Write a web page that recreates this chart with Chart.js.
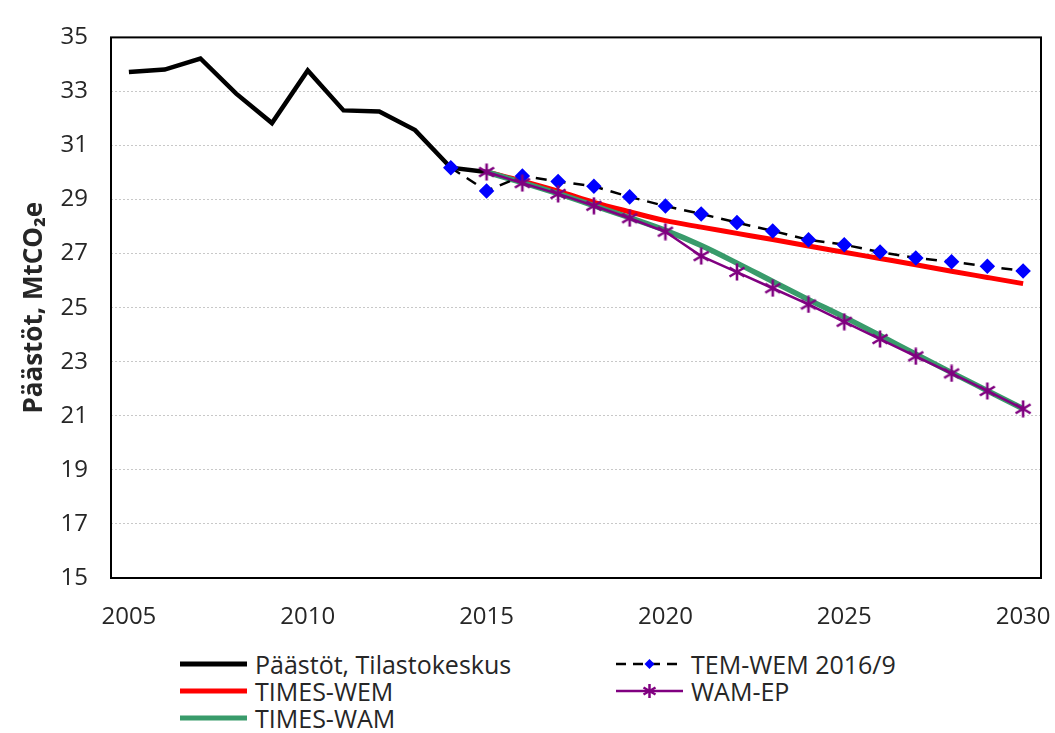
<!DOCTYPE html>
<html>
<head>
<meta charset="utf-8">
<script src="https://cdn.jsdelivr.net/npm/chart.js@4"></script>
<style>
  html, body { margin: 0; padding: 0; background: #fff; }
  #wrap { position: relative; width: 1055px; height: 733px; }
  #chart { position: absolute; left: 0; top: 0; }
  .leg { position: absolute; display: flex; align-items: center; height: 28px;
         font: 25px "Open Sans", sans-serif; color: #262626; white-space: nowrap; }
  .leg svg { margin-right: 8px; }
</style>
</head>
<body>
<div id="wrap">
  <canvas id="chart" width="1055" height="640"></canvas>
  <div id="legend"></div>
</div>
<script>
// Päästöt — historia ja skenaariot

const YEARS = [];
for (let y = 2005; y <= 2030; y++) YEARS.push(y);

// Tilastokeskus 2005–2015
const HIST_START = 2005;
const HIST = [33.72, 33.81, 34.22, 32.92, 31.83, 33.78, 32.30, 32.26, 31.57, 30.18, 30.02];

// TEM-WEM 2016/9, 2014–2030
const TEM_START = 2014;
const TEM_WEM = [30.18, 29.32, 29.87, 29.67, 29.49, 29.10, 28.76, 28.47, 28.15, 27.84,
                 27.51, 27.33, 27.06, 26.84, 26.70, 26.53, 26.36];

// TIMES-WEM, TIMES-WAM, WAM-EP 2015–2030
const SCEN_START = 2015;
const TIMES_WEM = [30.02, 29.68, 29.31, 28.90, 28.55, 28.22, 27.98, 27.75, 27.52, 27.28,
                   27.05, 26.82, 26.59, 26.35, 26.12, 25.89];
const TIMES_WAM = [30.02, 29.63, 29.22, 28.78, 28.33, 27.86, 27.30, 26.65, 25.97, 25.30,
                   24.65, 23.97, 23.28, 22.60, 21.93, 21.26];
const WAM_EP = [30.02, 29.61, 29.21, 28.77, 28.31, 27.81, 26.91, 26.32, 25.72, 25.12,
                24.48, 23.84, 23.20, 22.57, 21.92, 21.26];

const Y_TICKS = [15, 17, 19, 21, 23, 25, 27, 29, 31, 33, 35];

// sijoittaa sarjan oikeille vuosille, muut null
function onYears(start, values) {
  return YEARS.map((y) => {
    const i = y - start;
    return i >= 0 && i < values.length ? values[i] : null;
  });
}

const TEXT = '#262626';
const FONT = '"Open Sans", sans-serif';
const PURPLE = '#800080';

// Excel-tyylinen tähti (pysty + X) omana kuvanaan
function asteriskMarker() {
  const c = document.createElement('canvas');
  c.width = 18;
  c.height = 18;
  const g = c.getContext('2d');
  g.strokeStyle = PURPLE;
  g.lineWidth = 2.6;
  g.lineCap = 'butt';
  g.beginPath();
  g.moveTo(9, 0.5); g.lineTo(9, 17.5);
  g.moveTo(1.5, 4.5); g.lineTo(16.5, 13.5);
  g.moveTo(1.5, 13.5); g.lineTo(16.5, 4.5);
  g.stroke();
  return c;
}

// Kehys piirtoalueen ympärille
const frame = {
  id: 'frame',
  afterDatasetsDraw(chart) {
    const { ctx, chartArea: a } = chart;
    ctx.save();
    ctx.strokeStyle = '#000';
    ctx.lineWidth = 2;
    ctx.strokeRect(a.left, a.top, a.right - a.left, a.bottom - a.top);
    ctx.restore();
  },
};

new Chart(document.getElementById('chart'), {
  type: 'line',
  plugins: [frame],
  data: {
    labels: YEARS.map(String),
    datasets: [
      {
        label: 'Päästöt, Tilastokeskus',
        data: onYears(HIST_START, HIST),
        borderColor: '#000000',
        borderWidth: 4.5,
        pointRadius: 0,
        order: 5,
      },
      {
        label: 'TEM-WEM 2016/9',
        data: onYears(TEM_START, TEM_WEM),
        borderColor: '#000000',
        borderWidth: 2.5,
        borderDash: [11, 8],
        pointStyle: 'rectRot',
        pointRadius: 6,
        pointBackgroundColor: '#0000ff',
        pointBorderColor: '#0000ff',
        order: 2,
      },
      {
        label: 'TIMES-WEM',
        data: onYears(SCEN_START, TIMES_WEM),
        borderColor: '#ff0000',
        borderWidth: 5,
        pointRadius: 0,
        cubicInterpolationMode: 'monotone',
        order: 4,
      },
      {
        label: 'WAM-EP',
        data: onYears(SCEN_START, WAM_EP),
        borderColor: PURPLE,
        borderWidth: 2.5,
        pointStyle: asteriskMarker(),
        pointRadius: 9,
        order: 1,
      },
      {
        label: 'TIMES-WAM',
        data: onYears(SCEN_START, TIMES_WAM),
        borderColor: '#399b6b',
        borderWidth: 5.5,
        pointRadius: 0,
        cubicInterpolationMode: 'monotone',
        order: 3,
      },
    ],
  },
  options: {
    responsive: false,
    animation: false,
    layout: { padding: { top: 22, right: 14, left: 0, bottom: 0 } },
    plugins: { legend: { display: false }, tooltip: { enabled: false } },
    scales: {
      x: {
        offset: true,
        afterFit: (s) => { s.height = 62; s.paddingLeft = 0; s.paddingRight = 0; },
        grid: { display: false, drawTicks: false },
        border: { display: false },
        ticks: {
          autoSkip: false,
          maxRotation: 0,
          padding: 25,
          color: TEXT,
          font: { family: FONT, size: 24 },
          callback: (v, i) => (YEARS[i] % 5 === 0 ? String(YEARS[i]) : ''),
        },
      },
      y: {
        min: 15,
        max: 35,
        afterFit: (s) => { s.width = 111; },
        afterBuildTicks: (s) => { s.ticks = Y_TICKS.map((v) => ({ value: v })); },
        grid: { color: '#c8c8c8', lineWidth: 1, drawTicks: false },
        border: { display: false, dash: [2, 2] },
        ticks: {
          padding: 23,
          color: TEXT,
          font: { family: FONT, size: 24 },
        },
        title: {
          display: true,
          text: 'Päästöt, MtCO₂e',
          color: TEXT,
          font: { family: FONT, size: 26, weight: 'bold' },
          padding: { top: 19, bottom: 0 },
        },
      },
    },
  },
});

// Legenda kahdessa sarakkeessa, kuten alkuperäisessä
const LEGEND = [
  { text: 'Päästöt, Tilastokeskus', x: 180, y: 650, line: '#000', w: 5 },
  { text: 'TEM-WEM 2016/9', x: 616, y: 650, line: '#000', w: 2.5, dash: '10 7', marker: 'diamond' },
  { text: 'TIMES-WEM', x: 180, y: 677, line: '#ff0000', w: 5 },
  { text: 'WAM-EP', x: 616, y: 677, line: PURPLE, w: 2.5, marker: 'star' },
  { text: 'TIMES-WAM', x: 180, y: 704, line: '#399b6b', w: 5 },
];

function sampleSvg(it) {
  let s = `<svg width="67" height="28" viewBox="0 0 67 28">`;
  s += `<line x1="0" y1="14" x2="67" y2="14" stroke="${it.line}" stroke-width="${it.w}"` +
       (it.dash ? ` stroke-dasharray="${it.dash}"` : '') + '/>';
  if (it.marker === 'diamond') {
    s += `<polygon points="33.5,9 38.5,14 33.5,19 28.5,14" fill="#0000ff"/>`;
  } else if (it.marker === 'star') {
    s += `<g stroke="${PURPLE}" stroke-width="2.5">` +
         `<line x1="33.5" y1="7" x2="33.5" y2="21"/>` +
         `<line x1="27.5" y1="10.5" x2="39.5" y2="17.5"/>` +
         `<line x1="27.5" y1="17.5" x2="39.5" y2="10.5"/></g>`;
  }
  return s + '</svg>';
}

const legendEl = document.getElementById('legend');
for (const it of LEGEND) {
  const d = document.createElement('div');
  d.className = 'leg';
  d.style.left = it.x + 'px';
  d.style.top = it.y + 'px';
  d.innerHTML = sampleSvg(it) + '<span>' + it.text + '</span>';
  legendEl.appendChild(d);
}
</script>
</body>
</html>
